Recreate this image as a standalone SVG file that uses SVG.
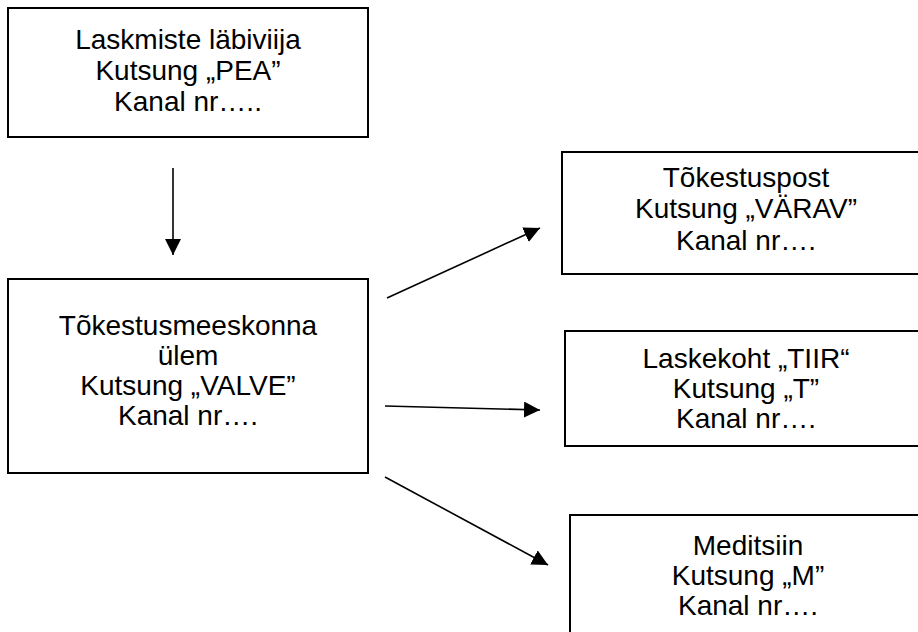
<svg xmlns="http://www.w3.org/2000/svg" width="918" height="632" viewBox="0 0 918 632">
<style>
.box{fill:#fff;stroke:#000;stroke-width:2}
.t{font-family:"Liberation Sans",Arial,sans-serif;font-size:28px;fill:#000;text-anchor:middle}
.c{stroke:#000;stroke-width:1.6;fill:none;marker-end:url(#ah)}
</style>
<defs>
<marker id="ah" markerUnits="userSpaceOnUse" markerWidth="17" markerHeight="17" refX="16" refY="8" orient="auto">
<path d="M0,0 L16,8 L0,16 Z" fill="#000"/>
</marker>
</defs>
<rect width="918" height="632" fill="#fff"/>
<g id="n1">
<rect class="box" x="8" y="8" width="360" height="129"/>
<text class="t" x="188" y="49">Laskmiste läbiviija</text>
<text class="t" x="188" y="80">Kutsung „PEA”</text>
<text class="t" x="188" y="111">Kanal nr…..</text>
</g>
<g id="n2">
<rect class="box" x="8" y="279" width="360" height="194"/>
<text class="t" x="188" y="335">Tõkestusmeeskonna</text>
<text class="t" x="188" y="365">ülem</text>
<text class="t" x="188" y="395">Kutsung „VALVE”</text>
<text class="t" x="188" y="425">Kanal nr….</text>
</g>
<g id="n3">
<rect class="box" x="562" y="152" width="370" height="122"/>
<text class="t" x="746" y="187">Tõkestuspost</text>
<text class="t" x="746" y="218">Kutsung „VÄRAV”</text>
<text class="t" x="746" y="250">Kanal nr….</text>
</g>
<g id="n4">
<rect class="box" x="565" y="331" width="370" height="115"/>
<text class="t" x="746" y="368">Laskekoht „TIIR“</text>
<text class="t" x="746" y="398">Kutsung „T”</text>
<text class="t" x="746" y="428">Kanal nr….</text>
</g>
<g id="n5">
<rect class="box" x="570" y="515" width="370" height="140"/>
<text class="t" x="748" y="555">Meditsiin</text>
<text class="t" x="748" y="585">Kutsung „M”</text>
<text class="t" x="748" y="615">Kanal nr….</text>
</g>
<g id="connectors">
<line class="c" x1="173" y1="168" x2="173" y2="255"/>
<line class="c" x1="387" y1="298" x2="540" y2="228"/>
<line class="c" x1="385" y1="406" x2="540" y2="410"/>
<line class="c" x1="385" y1="477" x2="548" y2="565"/>
</g>
</svg>
